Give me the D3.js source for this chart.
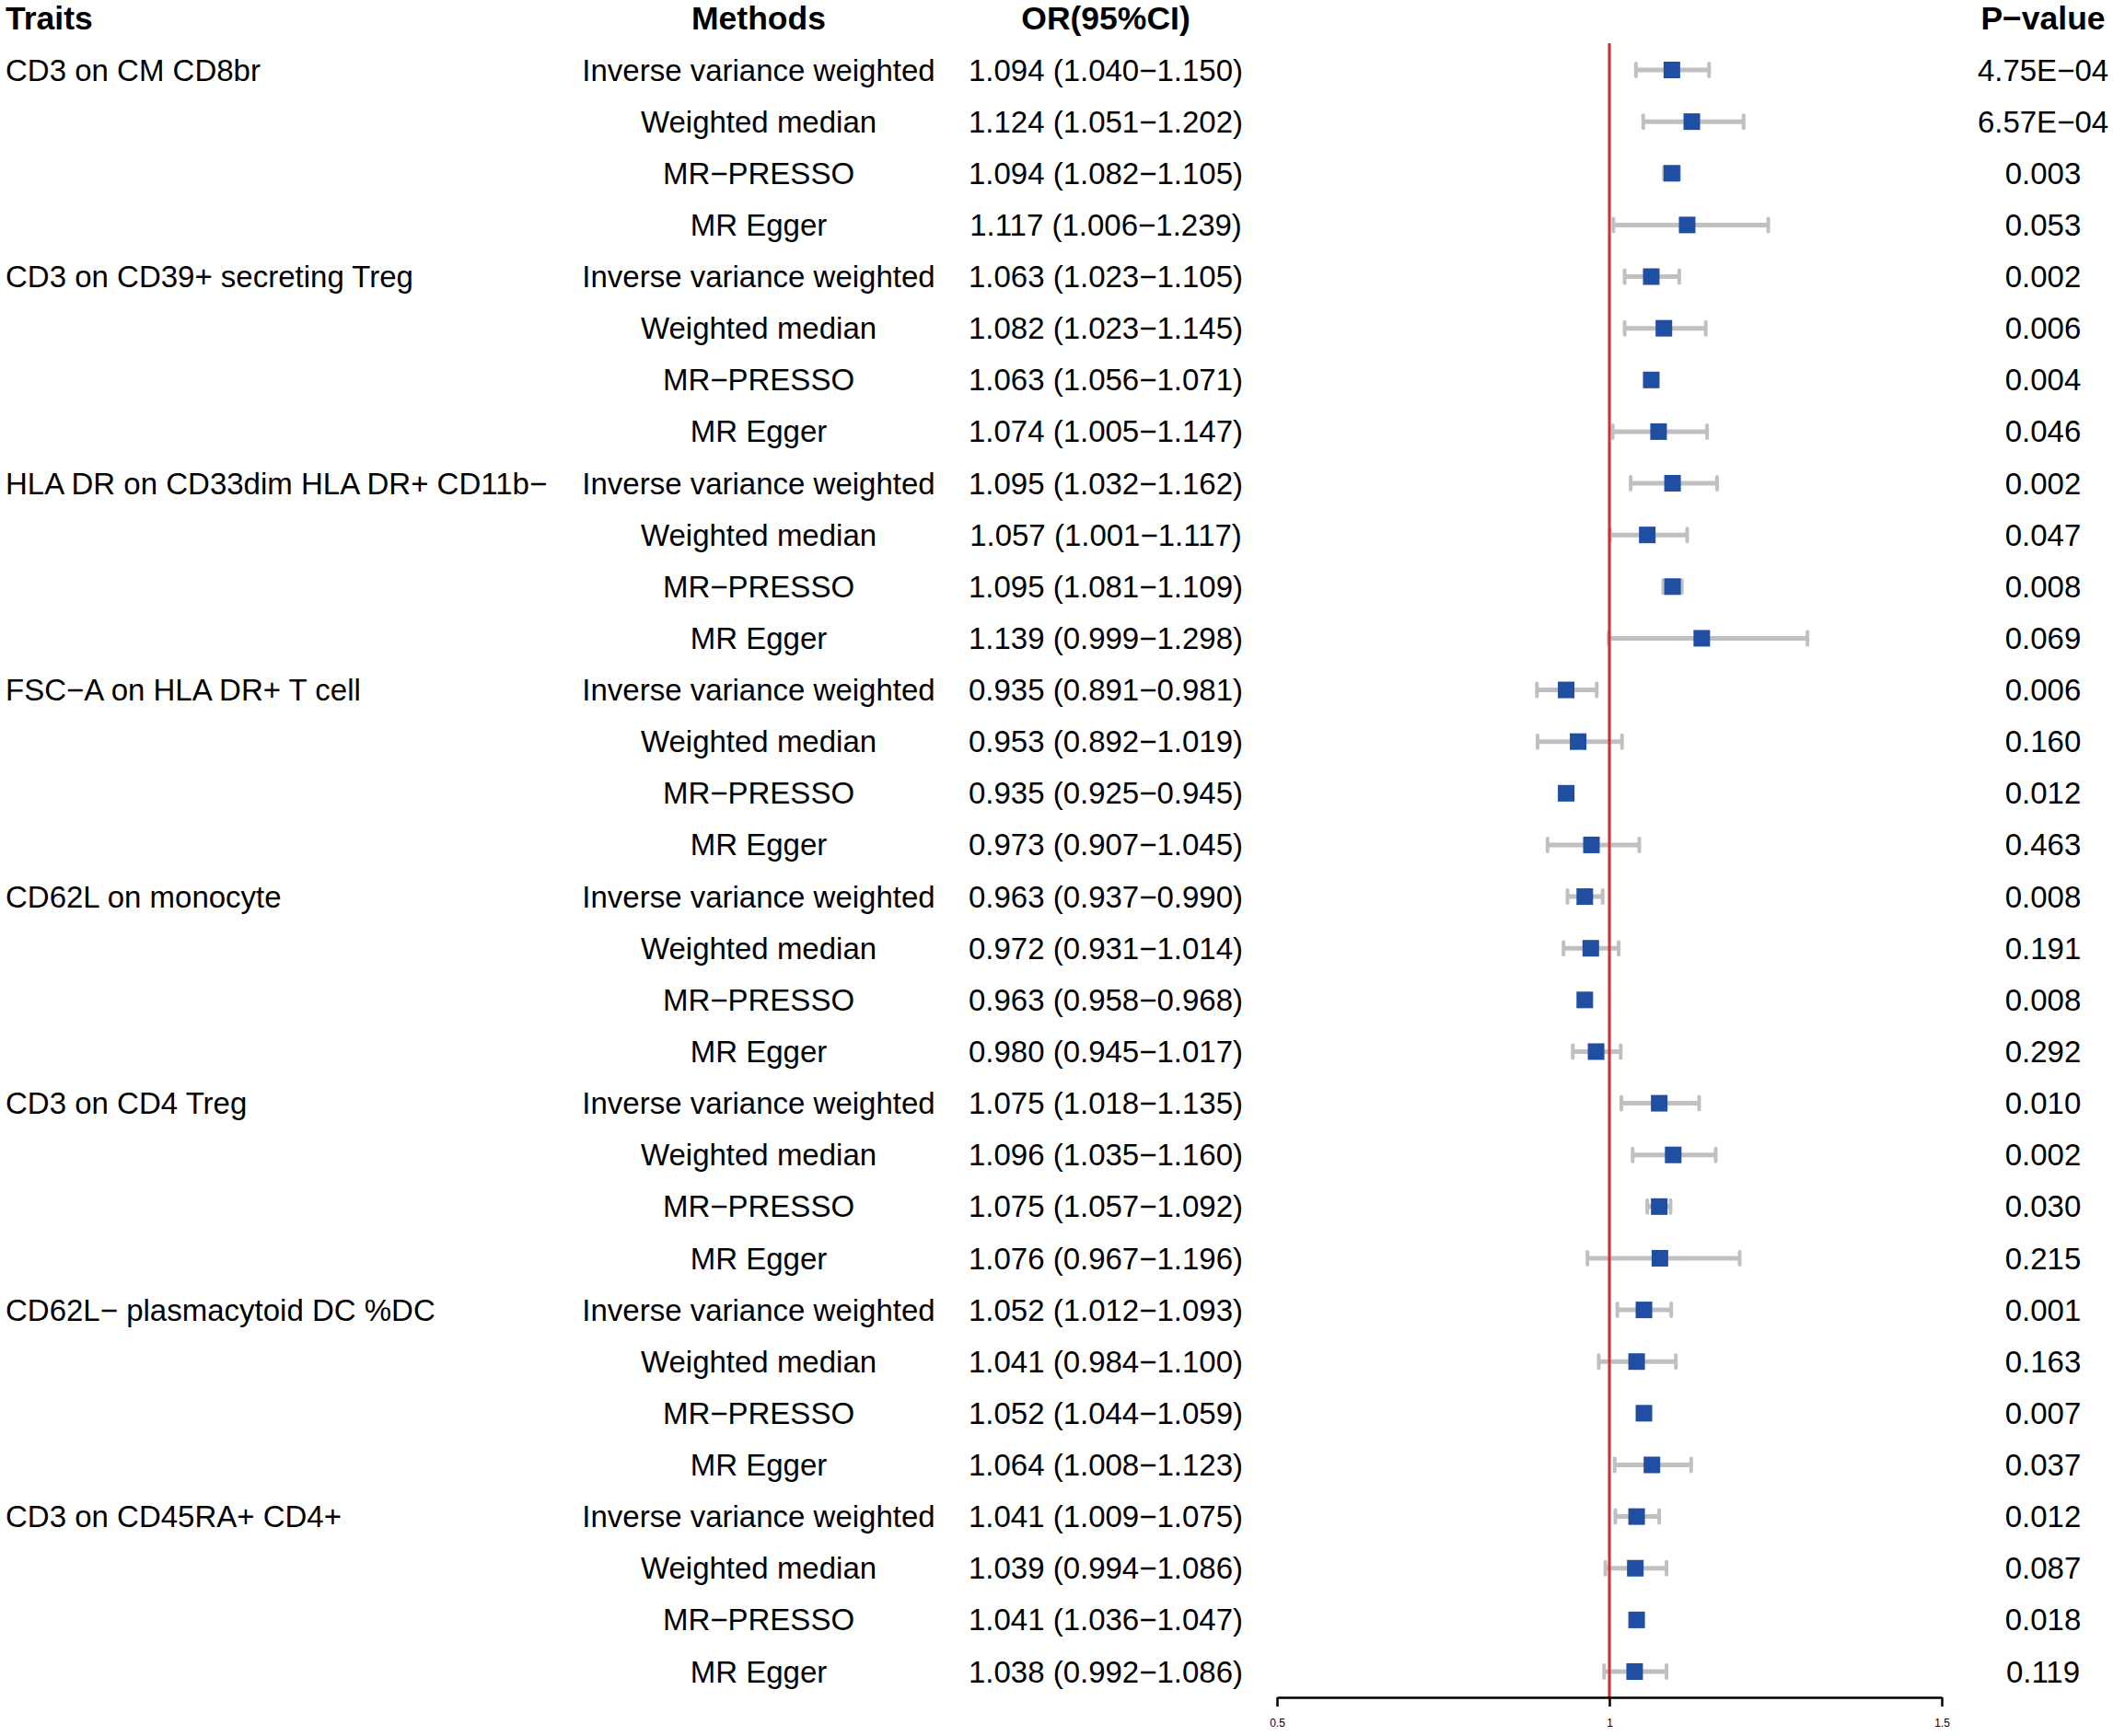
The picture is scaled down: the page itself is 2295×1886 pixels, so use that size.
<!DOCTYPE html>
<html>
<head>
<meta charset="utf-8">
<script src="https://cdn.jsdelivr.net/npm/d3@7"></script>
<style>
  body { margin: 0; background: #fff; }
  text { font-family: "Liberation Sans", Arial, sans-serif; fill: #000; }
</style>
</head>
<body>
<div id="chart"></div>
<script>
// data
var traits = ['CD3 on CM CD8br', 'CD3 on CD39+ secreting Treg', 'HLA DR on CD33dim HLA DR+ CD11b\u2212',
  'FSC\u2212A on HLA DR+ T cell', 'CD62L on monocyte', 'CD3 on CD4 Treg',
  'CD62L\u2212 plasmacytoid DC %DC', 'CD3 on CD45RA+ CD4+'];
var methods = ['Inverse variance weighted', 'Weighted median', 'MR\u2212PRESSO', 'MR Egger'];

var or = [1.094, 1.124, 1.094, 1.117, 1.063, 1.082, 1.063, 1.074,
  1.095, 1.057, 1.095, 1.139, 0.935, 0.953, 0.935, 0.973,
  0.963, 0.972, 0.963, 0.980, 1.075, 1.096, 1.075, 1.076,
  1.052, 1.041, 1.052, 1.064, 1.041, 1.039, 1.041, 1.038];
var lower = [1.040, 1.051, 1.082, 1.006, 1.023, 1.023, 1.056, 1.005,
  1.032, 1.001, 1.081, 0.999, 0.891, 0.892, 0.925, 0.907,
  0.937, 0.931, 0.958, 0.945, 1.018, 1.035, 1.057, 0.967,
  1.012, 0.984, 1.044, 1.008, 1.009, 0.994, 1.036, 0.992];
var upper = [1.150, 1.202, 1.105, 1.239, 1.105, 1.145, 1.071, 1.147,
  1.162, 1.117, 1.109, 1.298, 0.981, 1.019, 0.945, 1.045,
  0.990, 1.014, 0.968, 1.017, 1.135, 1.160, 1.092, 1.196,
  1.093, 1.100, 1.059, 1.123, 1.075, 1.086, 1.047, 1.086];
var pvals = ['4.75E\u221204', '6.57E\u221204', '0.003', '0.053', '0.002', '0.006', '0.004', '0.046',
  '0.002', '0.047', '0.008', '0.069', '0.006', '0.160', '0.012', '0.463',
  '0.008', '0.191', '0.008', '0.292', '0.010', '0.002', '0.030', '0.215',
  '0.001', '0.163', '0.007', '0.037', '0.012', '0.087', '0.018', '0.119'];
var ticks = [0.5, 1, 1.5];
var tickLabels = ['0.5', '1', '1.5'];
var headers = ['Traits', 'Methods', 'OR(95%CI)', 'P\u2212value'];

const W = 2295, H = 1886;
const FS = 33;     // body text
const HFS = 35.5;  // header text

// build rows
var rows = [];
traits.forEach(function (t, i) {
  methods.forEach(function (m, j) {
    var k = i * 4 + j;
    rows.push({i: k, trait: j == 0 ? t : '', method: m, or: or[k], lo: lower[k], hi: upper[k], p: pvals[k]});
  });
});

var svg = d3.select('#chart').append('svg')
            .attr('width', W)
            .attr('height', H);

var y = d3.scaleLinear().domain([0, rows.length - 1]).range([76, 1816]);
var x = d3.scaleLinear().domain([0.5, 1.5]).range([1387, 2109]);

// column positions
var colX = [6, 824, 1201, 2219];
var colAnchor = ['start', 'middle', 'middle', 'middle'];

svg.selectAll('text.header').data(headers)
   .enter()
   .append('text')
   .classed('header', true)
   .attr('x', (d, i) => colX[i])
   .attr('y', 20)
   .attr('dy', '0.35em')
   .attr('text-anchor', (d, i) => colAnchor[i])
   .style('font-size', HFS + 'px')
   .style('font-weight', 'bold')
   .text(d => d);

var row = svg.selectAll('g.row').data(rows)
             .enter()
             .append('g')
             .classed('row', true)
             .attr('transform', d => 'translate(0,' + y(d.i) + ')');

function col(g, idx, fn) {
  g.append('text')
   .attr('x', colX[idx])
   .attr('dy', '0.35em')
   .attr('text-anchor', colAnchor[idx])
   .style('font-size', FS + 'px')
   .text(fn);
}
col(row, 0, d => d.trait);
col(row, 1, d => d.method);
col(row, 2, d => d.or.toFixed(3) + ' (' + d.lo.toFixed(3) + '\u2212' + d.hi.toFixed(3) + ')');
col(row, 3, d => d.p);

// reference line
svg.append('line')
   .attr('x1', x(1)).attr('x2', x(1))
   .attr('y1', 47).attr('y2', 1844)
   .attr('stroke', '#d92b2b')
   .attr('stroke-width', 3);

// error bars
var GREY = '#c0c0c0';
row.append('line')
   .attr('x1', d => x(d.lo)).attr('x2', d => x(d.hi))
   .attr('stroke', GREY)
   .attr('stroke-width', 5);
[ 'lo', 'hi' ].forEach(function (key) {
  row.append('line')
     .attr('x1', d => x(d[key])).attr('x2', d => x(d[key]))
     .attr('y1', -7).attr('y2', 7)
     .attr('stroke', GREY)
     .attr('stroke-width', 4)
     .attr('stroke-linecap', 'round');
});

// point estimates
row.append('rect')
   .attr('x', d => x(d.or) - 9)
   .attr('y', -9)
   .attr('width', 18)
   .attr('height', 18)
   .attr('fill', '#1f4ea3');

// axis
var axis = svg.append('g')
              .attr('transform', 'translate(0,1844)')
              .call(d3.axisBottom(x).tickValues(ticks).tickSize(10).tickSizeOuter(0)
                      .tickFormat((d, i) => tickLabels[i]));
axis.select('.domain').attr('stroke', '#000').attr('stroke-width', 2.5);
axis.selectAll('.tick line').attr('stroke', '#000').attr('stroke-width', 2.5);
axis.selectAll('.tick text')
    .attr('y', 23)
    .style('font-family', '"Liberation Sans", Arial, sans-serif')
    .style('font-size', '12px')
    .attr('fill', '#000');
</script>
</body>
</html>
